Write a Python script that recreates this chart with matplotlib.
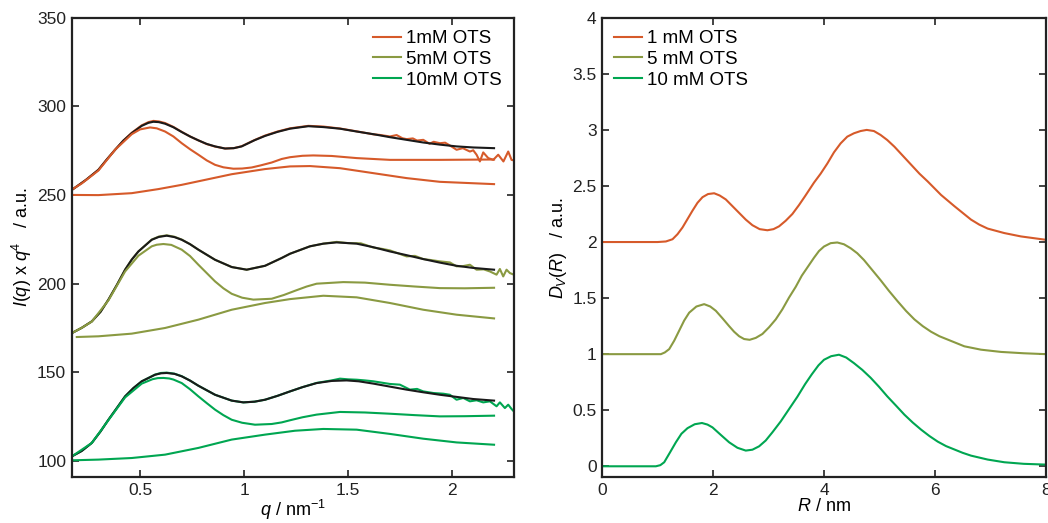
import numpy as np
import matplotlib
matplotlib.use('Agg')
import matplotlib.pyplot as plt

plt.rcParams['font.family'] = ['Liberation Sans', 'DejaVu Sans']
plt.rcParams['mathtext.fontset'] = 'custom'
plt.rcParams['mathtext.rm'] = 'Liberation Sans'
plt.rcParams['mathtext.it'] = 'Liberation Sans:italic'

c_1mM = '#d65a2a'
c_5mM = '#8a9a42'
c_10mM = '#00a651'

# ---- left panel: I(q) x q^4 ----
# 1 mM
q_fit1 = [0.172, 0.24, 0.30, 0.34, 0.38, 0.42, 0.46, 0.508, 0.54, 0.564, 0.59, 0.62, 0.66, 0.70, 0.74, 0.78,
          0.82, 0.86, 0.908, 0.95, 0.988, 1.05, 1.10, 1.16, 1.22, 1.308, 1.38, 1.46, 1.54, 1.62, 1.70,
          1.78, 1.86, 1.94, 2.02, 2.10, 2.2]
I_fit1 = [252.8, 258.5, 264.2, 270.0, 275.5, 280.7, 284.9, 289.0, 290.7, 291.3, 291.1, 290.2, 288.2, 285.5, 283.0, 280.8,
          278.8, 277.4, 276.2, 276.4, 277.4, 280.9, 283.3, 285.6, 287.4, 288.8, 288.3, 287.4, 285.8, 284.3, 282.6,
          281.1, 279.6, 278.4, 277.4, 276.8, 276.4]
q_dat1 = [0.172, 0.24, 0.30, 0.34, 0.38, 0.42, 0.46, 0.508, 0.54, 0.564, 0.59, 0.62, 0.66, 0.70, 0.74, 0.78,
          0.82, 0.86, 0.908, 0.95, 0.988, 1.05, 1.10, 1.16, 1.22, 1.308, 1.38, 1.46, 1.54, 1.588, 1.62, 1.65,
          1.70, 1.732, 1.76, 1.78, 1.81, 1.83, 1.86, 1.89, 1.91, 1.94, 1.965, 1.988, 2.02, 2.05, 2.084, 2.10,
          2.116, 2.132, 2.148, 2.172, 2.196, 2.22, 2.245, 2.268, 2.284, 2.295]
I_dat1 = [252.8, 258.5, 264.2, 270.0, 275.5, 280.7, 285.1, 289.3, 291.1, 291.8, 291.5, 290.6, 288.4, 285.6, 283.0, 280.8,
          278.7, 277.3, 276.2, 276.4, 277.5, 281.0, 283.5, 285.8, 287.6, 289.0, 288.6, 287.5, 285.9, 284.9, 284.2, 283.9,
          283.0, 283.8, 282.0, 281.5, 281.9, 280.7, 281.1, 278.9, 280.0, 279.2, 279.5, 277.9, 275.5, 276.4, 274.5, 275.2,
          272.7, 268.9, 274.0, 270.8, 269.8, 272.7, 268.9, 274.5, 269.8, 269.5]
q_c1a = [0.172, 0.22, 0.30, 0.38, 0.46, 0.50, 0.548, 0.58, 0.62, 0.66, 0.70, 0.74, 0.78, 0.82, 0.86, 0.90, 0.948,
         0.99, 1.036, 1.08, 1.132, 1.18, 1.22, 1.28, 1.332, 1.42, 1.54, 1.70, 1.94, 2.2]
I_c1a = [253.0, 256.5, 263.8, 275.5, 284.3, 287.0, 288.1, 287.6, 285.8, 283.0, 279.2, 275.8, 272.7, 269.5, 267.0, 265.6, 264.8,
         264.9, 265.5, 266.7, 268.3, 270.3, 271.3, 272.1, 272.3, 272.0, 270.8, 269.8, 269.8, 270.0]
q_c1b = [0.172, 0.30, 0.46, 0.588, 0.70, 0.812, 0.94, 1.10, 1.22, 1.316, 1.46, 1.62, 1.78, 1.94, 2.2]
I_c1b = [250.0, 249.9, 251.0, 253.3, 255.7, 258.5, 261.7, 264.6, 266.1, 266.3, 265.1, 262.3, 259.5, 257.4, 256.1]

# 5 mM
q_fit5 = [0.172, 0.22, 0.268, 0.31, 0.348, 0.39, 0.428, 0.46, 0.492, 0.556, 0.59, 0.628, 0.665, 0.70, 0.74, 0.78, 0.86, 0.94,
          1.012, 1.10, 1.18, 1.22, 1.316, 1.38, 1.444, 1.54, 1.62, 1.70, 1.78, 1.86, 1.94, 2.02, 2.10, 2.2]
I_fit5 = [172.0, 175.0, 178.6, 184.0, 190.9, 199.5, 207.8, 213.5, 218.1, 224.7, 226.3, 227.0, 226.2, 224.7, 222.2, 219.1, 213.4, 209.3,
          207.8, 210.0, 214.4, 216.8, 221.0, 222.5, 223.2, 222.5, 220.5, 218.1, 216.0, 213.8, 211.8, 210.0, 208.8, 207.8]
q_dat5 = [0.172, 0.22, 0.268, 0.31, 0.348, 0.39, 0.428, 0.46, 0.492, 0.556, 0.59, 0.628, 0.665, 0.70, 0.74, 0.78, 0.86, 0.94,
          1.012, 1.10, 1.18, 1.22, 1.316, 1.38, 1.444, 1.50, 1.56, 1.62, 1.66, 1.70, 1.74, 1.78, 1.82, 1.86, 1.90,
          1.94, 1.988, 2.02, 2.05, 2.084, 2.116, 2.15, 2.18, 2.212, 2.228, 2.244, 2.26, 2.276, 2.295]
I_dat5 = [172.0, 175.0, 178.6, 184.0, 190.9, 199.5, 207.8, 213.5, 218.1, 224.8, 226.5, 227.2, 226.4, 224.8, 222.2, 219.1, 213.4, 209.3,
          207.8, 210.0, 214.4, 216.8, 221.0, 222.5, 223.5, 222.8, 222.7, 220.3, 219.6, 218.7, 217.0, 215.3, 215.6, 213.8, 213.2,
          212.5, 211.9, 209.7, 209.8, 210.6, 207.8, 208.0, 206.8, 205.0, 208.2, 204.0, 207.8, 205.9, 205.0]
q_c5a = [0.172, 0.22, 0.268, 0.348, 0.428, 0.492, 0.556, 0.58, 0.612, 0.65, 0.70, 0.74, 0.78, 0.82, 0.86, 0.90, 0.94,
         0.99, 1.044, 1.132, 1.19, 1.244, 1.30, 1.348, 1.476, 1.58, 1.70, 1.82, 1.94, 2.06, 2.2]
I_c5a = [172.0, 175.0, 178.5, 190.5, 206.8, 215.7, 221.0, 221.9, 222.3, 221.8, 219.1, 215.5, 210.6, 205.9, 201.2, 197.3, 194.2,
         192.0, 190.9, 191.4, 193.5, 195.9, 198.3, 199.9, 200.8, 200.5, 199.3, 198.3, 197.4, 197.3, 197.6]
q_c5b = [0.196, 0.30, 0.46, 0.62, 0.78, 0.94, 1.10, 1.22, 1.38, 1.54, 1.70, 1.86, 2.02, 2.2]
I_c5b = [169.8, 170.2, 171.7, 174.9, 179.6, 185.2, 189.0, 191.2, 193.1, 192.2, 189.0, 185.2, 182.4, 180.3]

# 10 mM
q_fit10 = [0.172, 0.22, 0.268, 0.31, 0.348, 0.39, 0.428, 0.468, 0.508, 0.572, 0.60, 0.628, 0.665, 0.70, 0.74, 0.78, 0.86, 0.94,
           0.996, 1.05, 1.10, 1.16, 1.22, 1.28, 1.348, 1.42, 1.492, 1.55, 1.62, 1.70, 1.78, 1.86, 1.94, 2.02, 2.10, 2.2]
I_fit10 = [102.4, 105.5, 110.0, 116.5, 123.1, 130.0, 136.3, 141.0, 144.8, 148.5, 149.3, 149.5, 149.0, 147.6, 145.2, 142.3, 137.2, 133.9,
           132.9, 133.3, 134.4, 136.6, 139.1, 141.5, 143.8, 145.0, 145.3, 144.8, 143.5, 141.8, 140.1, 138.6, 137.2, 136.0, 134.8, 133.9]
q_dat10 = [0.172, 0.22, 0.268, 0.31, 0.348, 0.39, 0.428, 0.468, 0.508, 0.572, 0.60, 0.628, 0.665, 0.70, 0.74, 0.78, 0.86, 0.94,
           0.996, 1.05, 1.10, 1.16, 1.22, 1.28, 1.348, 1.42, 1.46, 1.50, 1.54, 1.58, 1.62, 1.652, 1.70, 1.748, 1.796,
           1.83, 1.86, 1.908, 1.956, 1.988, 2.02, 2.052, 2.084, 2.116, 2.148, 2.18, 2.212, 2.228, 2.252, 2.268, 2.284, 2.295]
I_dat10 = [102.4, 105.5, 110.0, 116.5, 123.1, 130.0, 136.3, 141.0, 144.8, 148.6, 149.5, 149.7, 149.1, 147.7, 145.2, 142.3, 137.2, 133.9,
           132.9, 133.3, 134.4, 136.6, 139.1, 141.5, 143.9, 145.3, 146.3, 145.9, 145.7, 145.3, 144.8, 144.2, 143.3, 142.9, 140.1,
           140.5, 139.1, 138.2, 137.8, 137.2, 134.4, 135.4, 133.5, 134.1, 132.9, 133.5, 130.7, 132.9, 129.7, 131.6, 129.2, 127.8]
q_c10a = [0.172, 0.268, 0.348, 0.428, 0.508, 0.56, 0.585, 0.612, 0.64, 0.66, 0.70, 0.74, 0.78, 0.82, 0.86, 0.90, 0.94, 0.99,
          1.052, 1.132, 1.18, 1.22, 1.28, 1.348, 1.46, 1.58, 1.70, 1.82, 1.94, 2.06, 2.2]
I_c10a = [102.4, 110.0, 122.9, 135.7, 143.5, 146.0, 146.6, 146.7, 146.4, 145.8, 143.8, 140.3, 136.3, 132.5, 128.8, 125.7, 123.1, 121.4,
          120.3, 120.7, 121.6, 122.8, 124.5, 126.0, 127.5, 127.2, 126.5, 125.7, 125.0, 125.1, 125.4]
q_c10b = [0.172, 0.30, 0.46, 0.62, 0.78, 0.94, 1.10, 1.244, 1.38, 1.54, 1.70, 1.86, 2.02, 2.2]
I_c10b = [100.2, 100.6, 101.5, 103.4, 107.2, 111.9, 114.7, 116.9, 117.9, 117.5, 115.1, 112.4, 110.3, 109.0]

# ---- right panel: D_V(R) ----
R_1mM = [0, 1.0, 1.15, 1.27, 1.36, 1.45, 1.54, 1.63, 1.72, 1.81, 1.91, 2.02, 2.12, 2.23, 2.35, 2.47, 2.59, 2.71,
         2.84, 2.98, 3.09, 3.19, 3.31, 3.43, 3.55, 3.66, 3.82, 3.94, 4.06, 4.18, 4.30, 4.42, 4.54, 4.66, 4.77,
         4.90, 5.02, 5.14, 5.27, 5.42, 5.57, 5.72, 5.87, 6.11, 6.35, 6.50, 6.65, 6.80, 6.95, 7.25, 7.55, 8.0]
D_1mM = [2.0, 2.0, 2.005, 2.025, 2.07, 2.13, 2.205, 2.28, 2.35, 2.40, 2.428, 2.435, 2.415, 2.38, 2.32, 2.26, 2.20, 2.15,
         2.115, 2.105, 2.115, 2.14, 2.19, 2.25, 2.33, 2.41, 2.53, 2.61, 2.70, 2.80, 2.88, 2.94, 2.97, 2.99, 3.0,
         2.99, 2.955, 2.91, 2.85, 2.77, 2.69, 2.61, 2.54, 2.42, 2.32, 2.26, 2.20, 2.155, 2.12, 2.08, 2.05, 2.02]
R_5mM = [0, 1.06, 1.13, 1.21, 1.30, 1.39, 1.48, 1.57, 1.70, 1.84, 1.95, 2.05, 2.17, 2.29, 2.38, 2.47, 2.56, 2.66,
         2.77, 2.89, 3.01, 3.13, 3.25, 3.37, 3.49, 3.60, 3.71, 3.82, 3.91, 4.0, 4.12, 4.24, 4.36, 4.48, 4.60, 4.72,
         4.87, 5.02, 5.17, 5.33, 5.48, 5.63, 5.78, 5.93, 6.08, 6.23, 6.38, 6.53, 6.83, 7.19, 7.6, 8.0]
D_5mM = [1.0, 1.0, 1.015, 1.045, 1.12, 1.21, 1.30, 1.37, 1.425, 1.446, 1.425, 1.387, 1.32, 1.25, 1.20, 1.16, 1.135, 1.128,
         1.145, 1.18, 1.24, 1.31, 1.40, 1.505, 1.60, 1.70, 1.78, 1.86, 1.92, 1.96, 1.99, 1.996, 1.98, 1.945, 1.90, 1.84,
         1.75, 1.66, 1.565, 1.47, 1.385, 1.31, 1.25, 1.20, 1.16, 1.13, 1.10, 1.07, 1.04, 1.02, 1.008, 1.0]
R_10mM = [0, 0.97, 1.05, 1.12, 1.22, 1.33, 1.43, 1.54, 1.67, 1.80, 1.90, 1.99, 2.14, 2.29, 2.44, 2.59, 2.71, 2.83,
          2.95, 3.07, 3.22, 3.37, 3.52, 3.66, 3.78, 3.90, 4.0, 4.13, 4.27, 4.40, 4.54, 4.69, 4.84, 4.99, 5.14,
          5.30, 5.45, 5.60, 5.75, 5.90, 6.05, 6.20, 6.35, 6.50, 6.65, 6.95, 7.25, 7.6, 8.0]
D_10mM = [0, 0, 0.01, 0.036, 0.12, 0.214, 0.29, 0.34, 0.375, 0.386, 0.372, 0.347, 0.28, 0.214, 0.165, 0.14, 0.148, 0.178,
          0.23, 0.303, 0.40, 0.51, 0.62, 0.733, 0.82, 0.90, 0.95, 0.982, 0.995, 0.97, 0.92, 0.86, 0.79, 0.71, 0.624,
          0.54, 0.46, 0.39, 0.327, 0.27, 0.22, 0.18, 0.15, 0.12, 0.095, 0.06, 0.036, 0.022, 0.015]

fig = plt.figure(figsize=(10.48, 5.23), dpi=100)
ax1 = fig.add_axes([0.0685, 0.087, 0.4220, 0.879])
ax2 = fig.add_axes([0.5745, 0.087, 0.4235, 0.879])

lw = 1.5
for qd, Id, qf, If, qa, Ia, qb, Ib, col, lab in [
        (q_dat1, I_dat1, q_fit1, I_fit1, q_c1a, I_c1a, q_c1b, I_c1b, c_1mM, '1mM OTS'),
        (q_dat5, I_dat5, q_fit5, I_fit5, q_c5a, I_c5a, q_c5b, I_c5b, c_5mM, '5mM OTS'),
        (q_dat10, I_dat10, q_fit10, I_fit10, q_c10a, I_c10a, q_c10b, I_c10b, c_10mM, '10mM OTS')]:
    ax1.plot(qd, Id, color=col, lw=lw, label=lab)
    ax1.plot(qf, If, color='#1a1a1a', lw=lw)
    ax1.plot(qa, Ia, color=col, lw=lw)
    ax1.plot(qb, Ib, color=col, lw=lw)

ax2.plot(R_1mM, D_1mM, color=c_1mM, lw=lw, label='1 mM OTS')
ax2.plot(R_5mM, D_5mM, color=c_5mM, lw=lw, label='5 mM OTS')
ax2.plot(R_10mM, D_10mM, color=c_10mM, lw=lw, label='10 mM OTS')

ax1.set_xlim(0.172, 2.296)
ax1.set_ylim(90.5, 350)
ax1.set_xticks([0.5, 1, 1.5, 2])
ax1.set_xticklabels(['0.5', '1', '1.5', '2'])
ax1.set_yticks([100, 150, 200, 250, 300, 350])
ax1.set_xlabel(r'$q$ / nm$^{-1}$', fontsize=13, labelpad=0)
ax1.set_ylabel(r'$I(q)$ x $q^4$   / a.u.', fontsize=13, labelpad=2)

ax2.set_xlim(0, 8)
ax2.set_ylim(-0.1, 4)
ax2.set_xticks([0, 2, 4, 6, 8])
ax2.set_yticks([0, 0.5, 1, 1.5, 2, 2.5, 3, 3.5, 4])
ax2.set_yticklabels(['0', '0.5', '1', '1.5', '2', '2.5', '3', '3.5', '4'])
ax2.set_xlabel(r'$R$ / nm', fontsize=13, labelpad=0)
ax2.set_ylabel(r'$D_V(R)$   / a.u.', fontsize=13, labelpad=2)

for ax in (ax1, ax2):
    ax.tick_params(direction='in', length=5, width=1.2, top=True, right=True,
                   labelsize=12.5, colors='#222222', pad=4)
    for s in ax.spines.values():
        s.set_linewidth(1.6)
        s.set_color('#222222')

ax1.legend(loc='upper right', frameon=False, fontsize=13.5, handlelength=1.5,
           handletextpad=0.25, labelspacing=0.2, borderaxespad=0.25)
ax2.legend(loc='upper left', frameon=False, fontsize=13.5, handlelength=1.5,
           handletextpad=0.25, labelspacing=0.2, borderaxespad=0.25)

fig.savefig('out.png', dpi=100)
